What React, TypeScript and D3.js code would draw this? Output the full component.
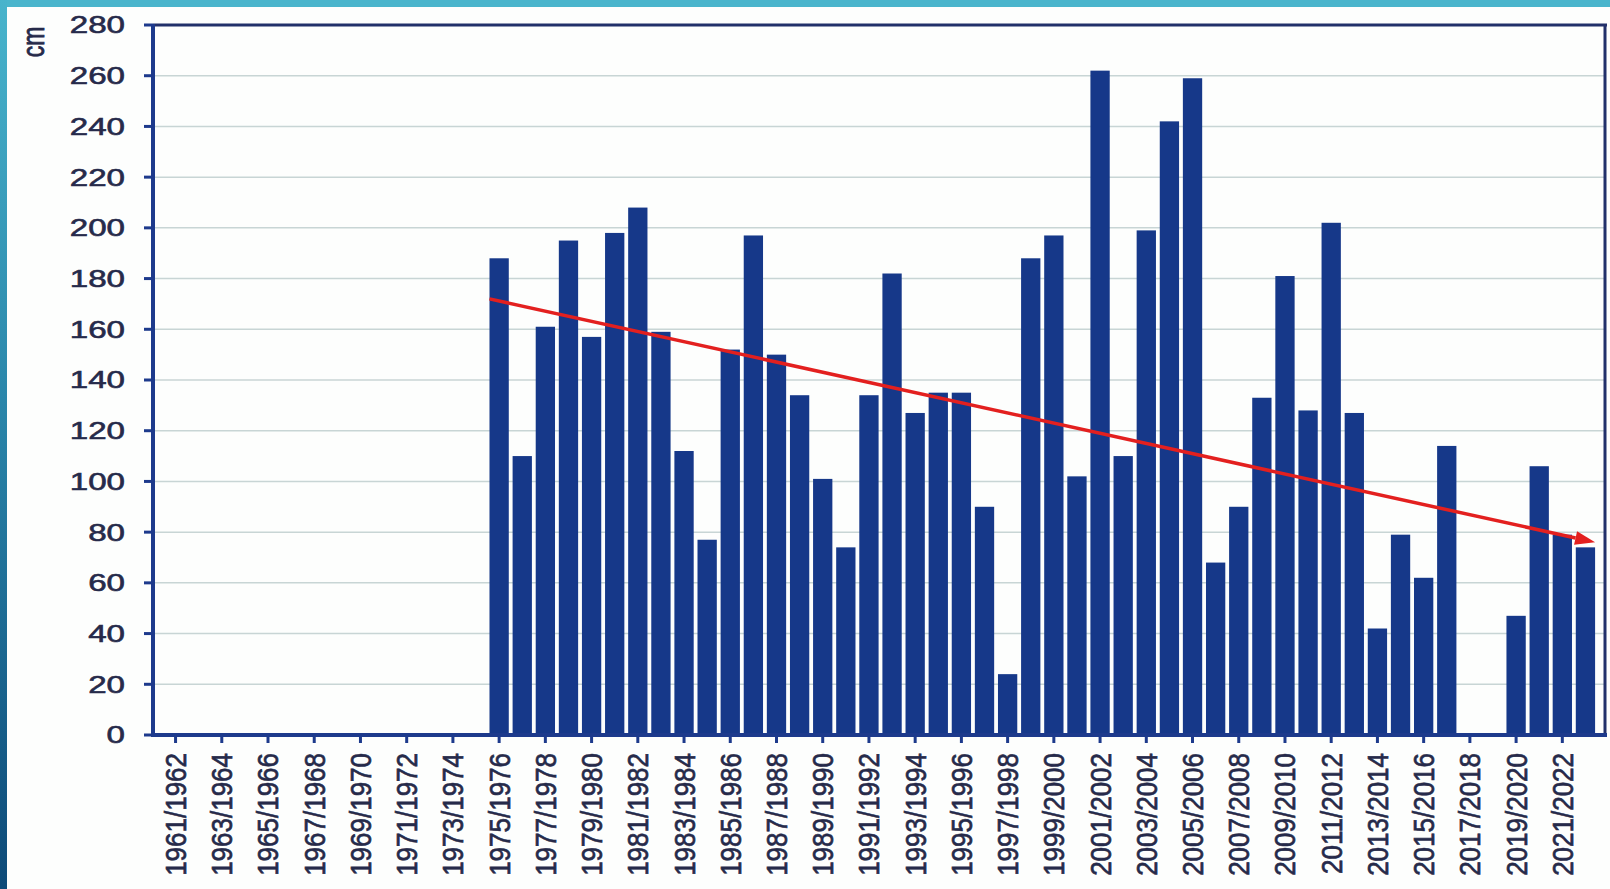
import React from "react";
import * as d3 from "d3";

const WIDTH = 1610;
const HEIGHT = 889;

const SEASONS = [
  "1961/1962", "1962/1963", "1963/1964", "1964/1965", "1965/1966", "1966/1967",
  "1967/1968", "1968/1969", "1969/1970", "1970/1971", "1971/1972", "1972/1973",
  "1973/1974", "1974/1975", "1975/1976", "1976/1977", "1977/1978", "1978/1979",
  "1979/1980", "1980/1981", "1981/1982", "1982/1983", "1983/1984", "1984/1985",
  "1985/1986", "1986/1987", "1987/1988", "1988/1989", "1989/1990", "1990/1991",
  "1991/1992", "1992/1993", "1993/1994", "1994/1995", "1995/1996", "1996/1997",
  "1997/1998", "1998/1999", "1999/2000", "2000/2001", "2001/2002", "2002/2003",
  "2003/2004", "2004/2005", "2005/2006", "2006/2007", "2007/2008", "2008/2009",
  "2009/2010", "2010/2011", "2011/2012", "2012/2013", "2013/2014", "2014/2015",
  "2015/2016", "2016/2017", "2017/2018", "2018/2019", "2019/2020", "2020/2021",
  "2021/2022", "2022/2023",
];

// snow depth in cm, null = no data
const SNOW_CM: (number | null)[] = [
  null, null, null, null, null, null, null, null, null, null, null, null, null, null,
  188, 110, 161, 195, 157, 198, 208, 159, 112, 77,
  152, 197, 150, 134, 101, 74, 134, 182, 127, 135,
  135, 90, 24, 188, 197, 102, 262, 110, 199, 242,
  259, 68, 90, 133, 181, 128, 202, 127, 42, 79,
  62, 114, null, null, 47, 106, 79, 74,
];

const Y_TICKS = [0, 20, 40, 60, 80, 100, 120, 140, 160, 180, 200, 220, 240, 260, 280];

// every other season gets a label
const X_LABELS = [
  "1961/1962", "1963/1964", "1965/1966", "1967/1968", "1969/1970", "1971/1972",
  "1973/1974", "1975/1976", "1977/1978", "1979/1980", "1981/1982", "1983/1984",
  "1985/1986", "1987/1988", "1989/1990", "1991/1992", "1993/1994", "1995/1996",
  "1997/1998", "1999/2000", "2001/2002", "2003/2004", "2005/2006", "2007/2008",
  "2009/2010", "2011/2012", "2013/2014", "2015/2016", "2017/2018", "2019/2020",
  "2021/2022",
];

// trend arrow, from first to last measured season
const TREND_SEASONS = ["1975/1976", "2022/2023"];
const TREND_CM = [172, 76];

const FRAME = { left: 153, right: 1605, top: 25, bottom: 735 };
const BAR = "#163889";
const TEXT = "#262a4a";
const FONT = "'Liberation Sans', Arial, sans-serif";

export default function App() {
  const x = d3
    .scaleBand<string>()
    .domain(SEASONS)
    .range([164, 1597])
    .paddingInner(0.165)
    .paddingOuter(0.0825);
  const y = d3.scaleLinear().domain([0, 280]).range([FRAME.bottom, FRAME.top]);
  const bw = x.bandwidth();

  const tx1 = x(TREND_SEASONS[0])!;
  const tx2 = x(TREND_SEASONS[1])! + bw;
  const ty1 = y(TREND_CM[0]);
  const ty2 = y(TREND_CM[1]);
  const ang = Math.atan2(ty2 - ty1, tx2 - tx1);
  const headLen = 20;
  const headHalf = 7;
  const bx = tx2 - headLen * Math.cos(ang);
  const by = ty2 - headLen * Math.sin(ang);
  const head = [
    [tx2, ty2],
    [bx + headHalf * Math.sin(ang), by - headHalf * Math.cos(ang)],
    [bx - headHalf * Math.sin(ang), by + headHalf * Math.cos(ang)],
  ]
    .map((p) => p.join(","))
    .join(" ");

  const textStyle = {
    fontFamily: FONT,
    fill: TEXT,
    stroke: TEXT,
    strokeWidth: 0.6,
  };

  return (
    <div style={{ position: "fixed", left: 0, top: 0, width: WIDTH, height: HEIGHT }}>
      <svg width={WIDTH} height={HEIGHT} style={{ display: "block" }}>
        <defs>
          <linearGradient id="edge" x1="0" y1="0" x2="0" y2="1">
            <stop offset="0" stopColor="#48b4cc" />
            <stop offset="0.45" stopColor="#2a86aa" />
            <stop offset="1" stopColor="#0d4a78" />
          </linearGradient>
        </defs>
        <rect width={WIDTH} height={HEIGHT} fill="#fdfefd" />
        <rect x={0} y={0} width={WIDTH} height={7} fill="#4ab5cc" />
        <rect x={0} y={0} width={7} height={HEIGHT} fill="url(#edge)" />

        {/* gridlines */}
        {Y_TICKS.filter((t) => t > 0 && t < 280).map((t) => (
          <line
            key={"g" + t}
            x1={FRAME.left}
            x2={FRAME.right}
            y1={y(t)}
            y2={y(t)}
            stroke="#c8d5d5"
            strokeWidth={1.5}
          />
        ))}

        {/* bars */}
        {SEASONS.map((s, i) =>
          SNOW_CM[i] == null ? null : (
            <rect
              key={s}
              x={x(s)}
              y={y(SNOW_CM[i]!)}
              width={bw}
              height={y(0) - y(SNOW_CM[i]!)}
              fill={BAR}
            />
          )
        )}

        {/* frame */}
        <line x1={FRAME.left} x2={FRAME.right + 2} y1={FRAME.top} y2={FRAME.top} stroke="#22306a" strokeWidth={3} />
        <line x1={FRAME.right} x2={FRAME.right} y1={FRAME.top} y2={FRAME.bottom} stroke="#22306a" strokeWidth={3} />
        <line x1={FRAME.left} x2={FRAME.left} y1={FRAME.top - 1} y2={FRAME.bottom + 2} stroke="#1d3a8c" strokeWidth={4} />
        <line x1={FRAME.left - 2} x2={FRAME.right + 2} y1={FRAME.bottom} y2={FRAME.bottom} stroke="#1d3a8c" strokeWidth={4} />

        {/* y axis ticks and labels */}
        {Y_TICKS.map((t) => (
          <g key={"y" + t}>
            <line x1={144} x2={FRAME.left} y1={y(t)} y2={y(t)} stroke="#1d3a8c" strokeWidth={3} />
            <text
              transform={`translate(125,${y(t)}) scale(1.38,1)`}
              textAnchor="end"
              dy="0.35em"
              fontSize={24}
              style={textStyle}
            >
              {t}
            </text>
          </g>
        ))}
        <text
          transform="translate(33,42) rotate(-90) scale(1,1.38)"
          textAnchor="middle"
          dy="0.35em"
          fontSize={23}
          style={textStyle}
        >
          cm
        </text>

        {/* x axis ticks and labels */}
        {X_LABELS.map((s) => {
          const cx = x(s)! + bw / 2;
          return (
            <g key={"x" + s}>
              <line x1={cx} x2={cx} y1={FRAME.bottom} y2={FRAME.bottom + 8} stroke="#1d3a8c" strokeWidth={3} />
              <text
                transform={`translate(${cx},753) rotate(-90) scale(1,1.15)`}
                textAnchor="end"
                dy="0.35em"
                fontSize={26}
                style={textStyle}
              >
                {s}
              </text>
            </g>
          );
        })}

        {/* trend */}
        <line x1={tx1} y1={ty1} x2={bx} y2={by} stroke="#e3201f" strokeWidth={3.5} />
        <polygon points={head} fill="#e3201f" />
      </svg>
    </div>
  );
}
